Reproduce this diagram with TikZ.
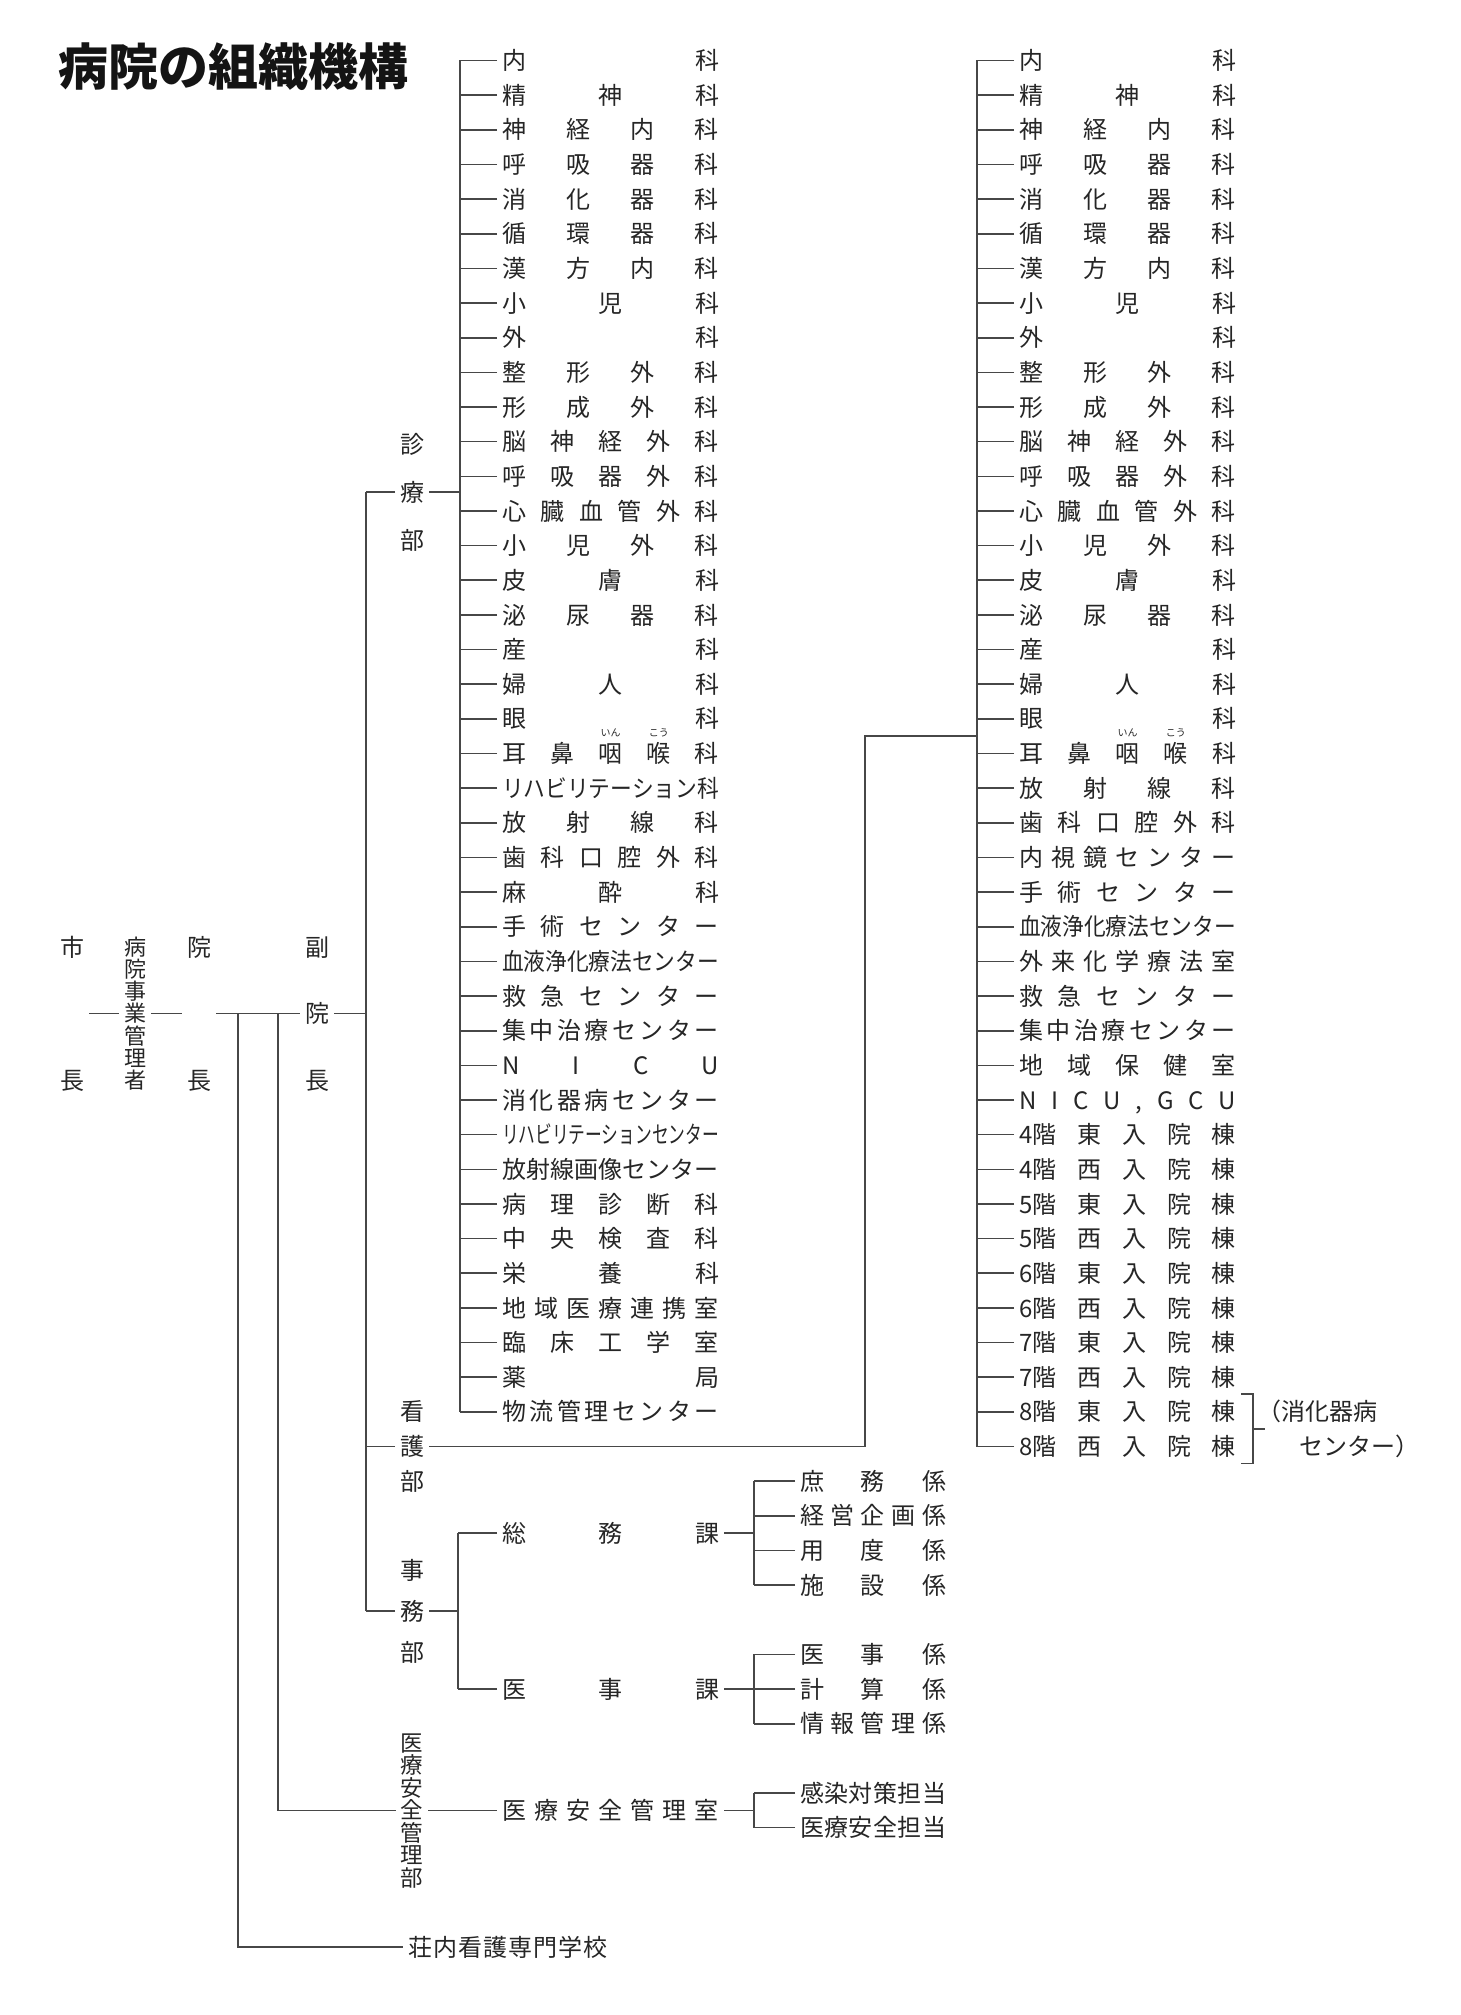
\documentclass[tikz,border=0pt]{standalone}
\usepackage{fontspec}
\usepackage{graphicx}
\usetikzlibrary{calc}
\setmainfont{Noto Sans CJK JP}
\makeatletter
\def\sp@end{\sp@end}
\def\sp@first#1{#1\sp@next}
\def\sp@next#1{\ifx\sp@end#1\else\hfil#1\expandafter\sp@next\fi}
\newlength\jtW
\newcommand\jtx[1]{\expandafter\jt@\expandafter{#1}}
\newcommand\jt@[1]{\setbox0=\hbox{#1}%
  \ifdim\wd0>\jtW\relax
    \resizebox{\jtW}{\height}{#1}%
  \else
    \hbox to \jtW{\sp@first#1\sp@end}%
  \fi}
\newcommand\vch[1]{\hbox to 1em{\hss\vrule height .88em depth .12em width 0pt\relax #1\hss}}
\newcommand\vst[2]{\vbox{\offinterlineskip\def\vgap{#1}\vst@first#2\sp@end}}
\def\vst@first#1{\vch{#1}\vst@next}
\def\vst@next#1{\ifx\sp@end#1\else\vskip\vgap\relax\vch{#1}\expandafter\vst@next\fi}
\newcommand\rb[2]{\setbox2=\hbox{#1}\rlap{\hbox to\wd2{\hss\raisebox{1.1em}[0pt][0pt]{\fontsize{10}{10}\selectfont #2}\hss}}\box2}
\makeatother
\begin{document}
\begin{tikzpicture}[x=1pt,y=-1pt,
  every node/.style={inner sep=0pt, outer sep=3pt, text=black!85},
  ln/.style={draw=black!72, line width=1.6pt},
  itm/.style={anchor=west, outer sep=5pt, text height=21.1pt, text depth=2.9pt},
  vl/.style={outer sep=5pt},
  font=\fontsize{24}{24}\selectfont]
\fill[white] (0,0) rectangle (1461,2015);
\useasboundingbox (0,0) rectangle (1461,2015);

% title
\node[anchor=west, font=\fontsize{50}{50}\selectfont\bfseries, text=black!92,
  text height=44pt, text depth=6pt] (title) at (55,67) {病院の組織機構};

% buses
\coordinate (Lbus) at (460,0);
\coordinate (Rbus) at (977,0);
\coordinate (Mbus) at (366,0);
\coordinate (Jbus) at (458,0);
\coordinate (Sbus) at (754,0);

% left list (診療部)
\foreach \t [count=\i] in {内科,精神科,神経内科,呼吸器科,消化器科,循環器科,漢方内科,小児科,外科,整形外科,形成外科,脳神経外科,呼吸器外科,心臓血管外科,小児外科,皮膚科,泌尿器科,産科,婦人科,眼科,{耳鼻{\rb{咽}{いん}}{\rb{喉}{こう}}科},リハビリテーション科,放射線科,歯科口腔外科,麻酔科,手術センター,血液浄化療法センター,救急センター,集中治療センター,NICU,消化器病センター,リハビリテーションセンター,放射線画像センター,病理診断科,中央検査科,栄養科,地域医療連携室,臨床工学室,薬局,物流管理センター} {
  \pgfmathsetmacro\yy{60.5+(\i-1)*34.65}
  \node[itm] (L\i) at (497,\yy) {\jtW=217pt\relax\jtx\t};
  \draw[ln] (L\i.west) -- (L\i.west -| Lbus);
}
\draw[ln] (L1.west -| Lbus) -- (L40.west -| Lbus);

% right list (看護部)
\foreach \t [count=\i] in {内科,精神科,神経内科,呼吸器科,消化器科,循環器科,漢方内科,小児科,外科,整形外科,形成外科,脳神経外科,呼吸器外科,心臓血管外科,小児外科,皮膚科,泌尿器科,産科,婦人科,眼科,{耳鼻{\rb{咽}{いん}}{\rb{喉}{こう}}科},放射線科,歯科口腔外科,内視鏡センター,手術センター,血液浄化療法センター,外来化学療法室,救急センター,集中治療センター,地域保健室,{NICU{,}GCU},{{4階}東入院棟},{{4階}西入院棟},{{5階}東入院棟},{{5階}西入院棟},{{6階}東入院棟},{{6階}西入院棟},{{7階}東入院棟},{{7階}西入院棟},{{8階}東入院棟},{{8階}西入院棟}} {
  \pgfmathsetmacro\yy{60.5+(\i-1)*34.65}
  \node[itm] (R\i) at (1014,\yy) {\jtW=217pt\relax\jtx\t};
  \draw[ln] (R\i.west) -- (R\i.west -| Rbus);
}
\draw[ln] (R1.west -| Rbus) -- (R41.west -| Rbus);

% bracket for 8F wards
\draw[ln] ([yshift=18pt]R40.east) -- ++(12,0) |- ([yshift=-17pt]R41.east);
\draw[ln] ($(R40.east)!.5!(R41.east)+(12,0)$) -- ++(12,0);
\node[itm] (k1) at (1252,1411.85) {（消化器病};
\node[itm] (k2) at (1294,1446.5) {センター）};

% top-level chain
\node[vl] (shicho) at (72,1013.5) {\vst{109pt}{市長}};
\node[vl, font=\fontsize{22}{22}\selectfont] (kanri) at (135,1013.5) {\vst{0.2pt}{病院事業管理者}};
\node[vl] (incho) at (199,1013.5) {\vst{109pt}{院長}};
\node[vl] (fuku) at (317,1013.5) {\vst{42.5pt}{副院長}};
\draw[ln] (shicho.east) -- (kanri.west);
\draw[ln] (kanri.east) -- (incho.west);
\draw[ln] (incho.east) -- (fuku.west);
\draw[ln] (fuku.east) -- (fuku.east -| Mbus);
\coordinate (B1) at (238,1013.5);
\coordinate (B2) at (278,1013.5);

% departments
\node[vl] (shinryo) at (412,492) {\vst{24pt}{診療部}};
\node[vl] (kango) at (412,1446.5) {\vst{10.65pt}{看護部}};
\node[vl] (jimu) at (412,1611) {\vst{17pt}{事務部}};
\node[vl, font=\fontsize{22.5}{22.5}\selectfont] (anzen) at (412,1810.3) {\vst{0pt}{医療安全管理部}};
\node[itm] (gakko) at (403,1947) {\jtW=200pt\relax\jtx{荘内看護専門学校}};

\draw[ln] (shinryo.west -| Mbus) -- (jimu.west -| Mbus);
\draw[ln] (shinryo.west) -- (shinryo.west -| Mbus);
\draw[ln] (shinryo.east) -- (shinryo.east -| Lbus);
\draw[ln] (kango.west) -- (kango.west -| Mbus);
\coordinate (Kx) at (865,736);
\draw[ln] (kango.east) -| (Kx) -- (Kx -| Rbus);
\draw[ln] (jimu.west) -- (jimu.west -| Mbus);
\draw[ln] (jimu.east) -- (jimu.east -| Jbus);
\draw[ln] (B1) |- (gakko.west);
\draw[ln] (B2) |- (anzen.west);

% 事務部 sections
\node[itm] (somu) at (497,1533.1) {\jtW=217pt\relax\jtx{総務課}};
\node[itm] (iji) at (497,1689.05) {\jtW=217pt\relax\jtx{医事課}};
\draw[ln] (somu.west) -- (somu.west -| Jbus);
\draw[ln] (iji.west) -- (iji.west -| Jbus);
\draw[ln] (somu.west -| Jbus) -- (iji.west -| Jbus);
\draw[ln] (somu.east) -- (somu.east -| Sbus);
\draw[ln] (iji.east) -- (iji.east -| Sbus);

\foreach \t [count=\i] in {庶務係,経営企画係,用度係,施設係} {
  \pgfmathsetmacro\yy{60.5+(\i+40)*34.65}
  \node[itm] (S\i) at (795,\yy) {\jtW=146pt\relax\jtx\t};
  \draw[ln] (S\i.west) -- (S\i.west -| Sbus);
}
\draw[ln] (S1.west -| Sbus) -- (S4.west -| Sbus);

\foreach \t [count=\i] in {医事係,計算係,情報管理係} {
  \pgfmathsetmacro\yy{60.5+(\i+45)*34.65}
  \node[itm] (I\i) at (795,\yy) {\jtW=146pt\relax\jtx\t};
  \draw[ln] (I\i.west) -- (I\i.west -| Sbus);
}
\draw[ln] (I1.west -| Sbus) -- (I3.west -| Sbus);

% 医療安全管理部
\node[itm] (shitsu) at (497,1810.3) {\jtW=217pt\relax\jtx{医療安全管理室}};
\draw[ln] (anzen.east) -- (shitsu.west);
\draw[ln] (shitsu.east) -- (shitsu.east -| Sbus);
\foreach \t [count=\i] in {感染対策担当,医療安全担当} {
  \pgfmathsetmacro\yy{60.5+(\i+49)*34.65}
  \node[itm] (A\i) at (795,\yy) {\jtW=146pt\relax\jtx\t};
  \draw[ln] (A\i.west) -- (A\i.west -| Sbus);
}
\draw[ln] (A1.west -| Sbus) -- (A2.west -| Sbus);
\end{tikzpicture}
\end{document}
